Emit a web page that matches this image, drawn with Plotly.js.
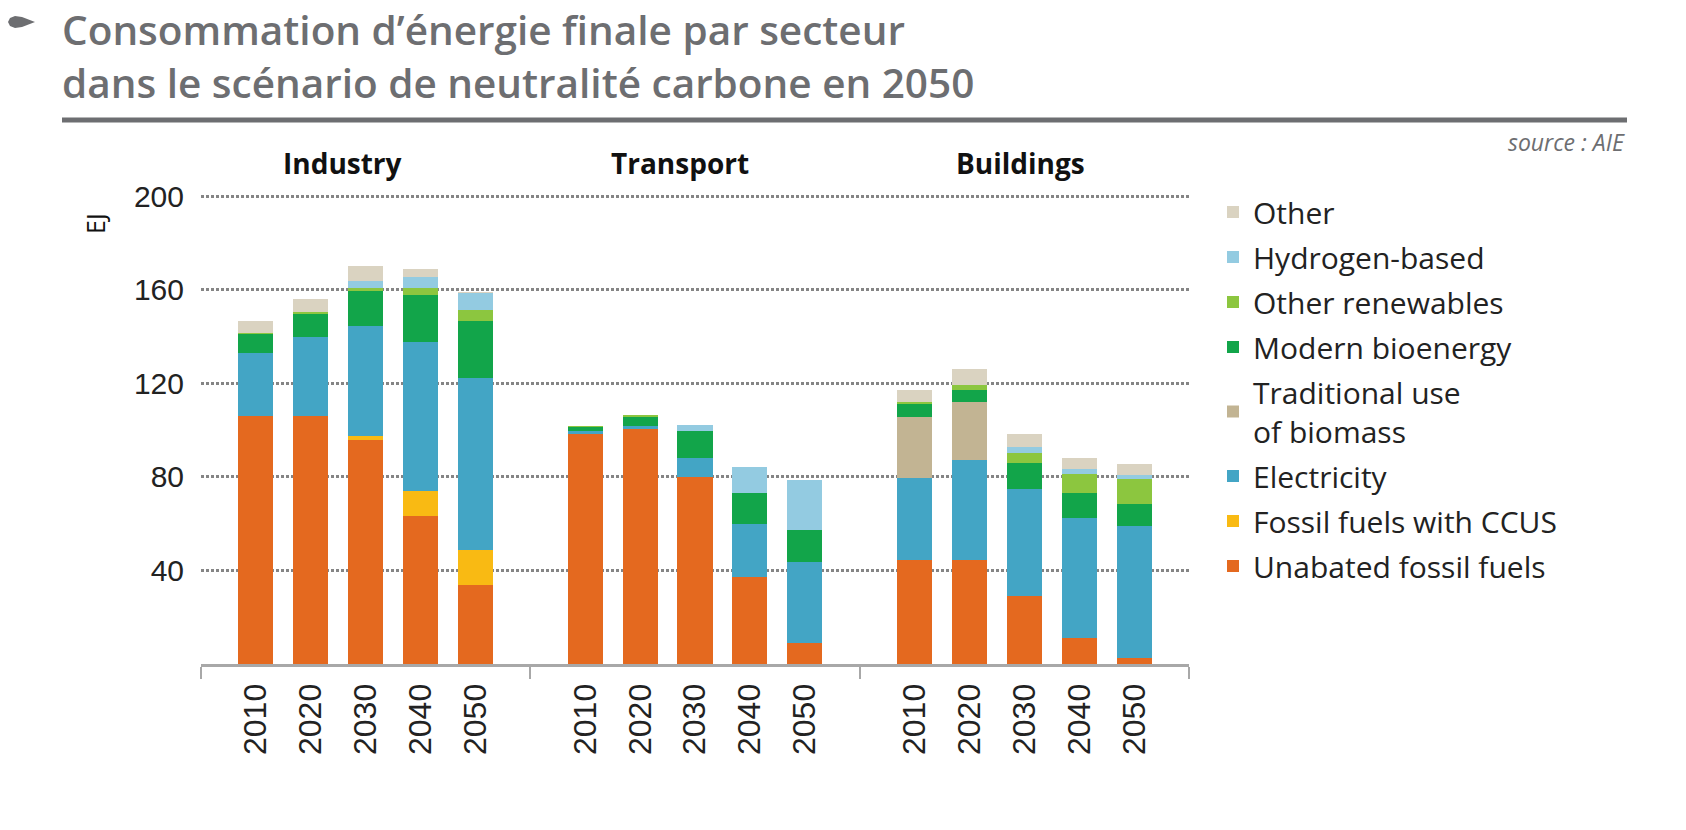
<!DOCTYPE html>
<html>
<head>
<meta charset="utf-8">
<script src="https://cdn.plot.ly/plotly-3.0.1.min.js"></script>
<style>html,body{margin:0;padding:0;background:#fff;}#chart{width:1686px;height:830px;}</style>
</head>
<body>
<div id="chart"></div>
<script>
// ---- data ----
const sectors = ["Industry", "Transport", "Buildings"];
const years = ["2010", "2020", "2030", "2040", "2050"];
const seriesNames = ["Unabated fossil fuels", "Fossil fuels with CCUS", "Electricity", "Traditional use<br>of biomass", "Modern bioenergy", "Other renewables", "Hydrogen-based", "Other"];
// values in EJ, order: Industry 2010..2050, Transport 2010..2050, Buildings 2010..2050
const unabatedFossil = [106, 106, 95.8, 63.3, 33.8,  98.4, 100.4, 80.1, 37.4, 8.8,  44.5, 44.5, 29.1, 11, 2.4];
const fossilCCUS     = [0, 0, 1.7, 10.9, 15,  0, 0, 0, 0, 0,  0, 0, 0, 0, 0];
const electricity    = [27, 34, 47, 63.3, 73.4,  1.4, 1.4, 7.9, 22.5, 35,  34.9, 42.8, 45.6, 51.3, 56.6];
const traditionalBio = [0, 0, 0, 0, 0,  0, 0, 0, 0, 0,  26.4, 24.9, 0, 0, 0];
const modernBio      = [8, 9.7, 15.1, 20.4, 24.7,  1.7, 3.7, 11.8, 13.1, 13.5,  5.4, 5, 11.1, 10.7, 9.4];
const otherRenew     = [0.7, 0.7, 1, 2.8, 4.3,  0.3, 1, 0, 0, 0,  1, 2.2, 4.6, 8.3, 10.6];
const hydrogen       = [0, 0, 3.3, 5, 7.4,  0, 0, 2.4, 11.4, 21.4,  0, 0, 2.3, 2, 1.9];
const other          = [5.2, 5.6, 6.3, 3.3, 0.7,  0, 0, 0, 0, 0,  5, 6.6, 5.7, 4.7, 4.7];
const yTicks = [40, 80, 120, 160, 200];
const unitLabel = "EJ";
const chartTitle = "Consommation d’énergie finale par secteur<br>dans le scénario de neutralité carbone en 2050";
const sourceText = "source : AIE";

// ---- styling ----
const colors = ["#E4691F", "#F9BA13", "#43A5C5", "#C2B493", "#12A54A", "#8CC63F", "#93CBE1", "#DAD3C1"];
const allSeries = [unabatedFossil, fossilCCUS, electricity, traditionalBio, modernBio, otherRenew, hydrogen, other];

// plot box in pixels
const L = 201, R = 1189, T = 194, B = 664;
const W = R - L, H = B - T;
const px = v => (v - L) / W;
const py = v => (B - v) / H;

// x positions: each sector occupies 5 slots, with an empty slot between sectors
const xPos = [], xText = [];
sectors.forEach((s, gi) => years.forEach((y, yi) => { xPos.push(gi * 6 + yi + 1); xText.push(y); }));

const traces = allSeries.map((vals, i) => ({
  type: "bar",
  name: seriesNames[i],
  x: xPos,
  y: vals,
  width: 0.64,
  marker: { color: colors[i], line: { width: 0 } },
  legendgroup: "g" + i,
  legendrank: 100 - i,
  hoverinfo: "name+y"
}));

const sectorLabelX = [342, 680, 1020];
const annotations = sectors.map((s, i) => ({
  text: "<b>" + s + "</b>", xref: "paper", yref: "paper",
  x: px(sectorLabelX[i]), y: py(163), xanchor: "center", yanchor: "middle",
  showarrow: false, font: { family: "Open Sans", size: 28, color: "#111" }
}));
annotations.push({
  text: unitLabel, xref: "paper", yref: "paper", x: px(95), y: py(224),
  xanchor: "center", yanchor: "middle", textangle: -90, showarrow: false,
  font: { family: "Open Sans", size: 25, color: "#111" }
});
annotations.push({
  text: "<i>" + sourceText + "</i>", xref: "paper", yref: "paper", x: px(1627), y: py(142),
  xanchor: "right", yanchor: "middle", showarrow: false,
  font: { family: "Open Sans", size: 23, color: "#6d6e71" }
});

function pathFromPixels(pts) {
  return pts.map((p, i) => (i === 0 ? "M" : "L") + px(p[0]).toFixed(5) + "," + py(p[1]).toFixed(5)).join(" ") + " Z";
}

const shapes = [
  { type: "line", xref: "paper", yref: "paper", x0: px(62), x1: px(1627), y0: py(120), y1: py(120),
    line: { color: "#6d6e71", width: 5 } },
  { type: "path", xref: "paper", yref: "paper",
    path: pathFromPixels([[8,22],[10,18],[15,16],[22,17],[35,22],[22,27],[15,28],[10,26]]),
    fillcolor: "#6d6e71", line: { width: 0 } }
];

const layout = {
  width: 1686, height: 830,
  margin: { l: L, r: 1686 - R, t: T, b: 830 - B, pad: 0 },
  paper_bgcolor: "#fff", plot_bgcolor: "#fff",
  barmode: "stack",
  title: {
    text: chartTitle, xref: "container", yref: "container",
    x: 62 / 1686, xanchor: "left", y: 1 - 45 / 830, yanchor: "top",
    font: { family: "Open Sans", size: 40.5, color: "#6d6e71", weight: 600 }
  },
  xaxis: {
    range: [0, 18], tickmode: "array", tickvals: xPos, ticktext: xText,
    tickangle: -90, ticks: "", showgrid: false, zeroline: false,
    showline: true, linecolor: "#a8a8a8", linewidth: 3,
    ticklabelstandoff: 4,
    tickfont: { family: "Liberation Sans", size: 32, color: "#222" },
    minor: { tickmode: "array", tickvals: [0, 6, 12, 18], ticks: "outside", ticklen: 12, tickwidth: 2, tickcolor: "#a8a8a8", showgrid: false }
  },
  yaxis: {
    range: [0, 201], tickmode: "array", tickvals: yTicks,
    showgrid: true, gridcolor: "#858585", gridwidth: 3, griddash: "3px,2px",
    zeroline: false, showline: false, ticks: "",
    ticklabelstandoff: 16,
    tickfont: { family: "Liberation Sans", size: 30, color: "#222" }
  },
  legend: {
    x: px(1213), y: py(186), xanchor: "left", yanchor: "top",
    traceorder: "grouped", tracegroupgap: 3,
    font: { family: "Open Sans", size: 30, color: "#222" },
    bgcolor: "rgba(0,0,0,0)"
  },
  annotations: annotations,
  shapes: shapes
};

Plotly.newPlot("chart", traces, layout, { displayModeBar: false, staticPlot: true });
</script>
</body>
</html>
